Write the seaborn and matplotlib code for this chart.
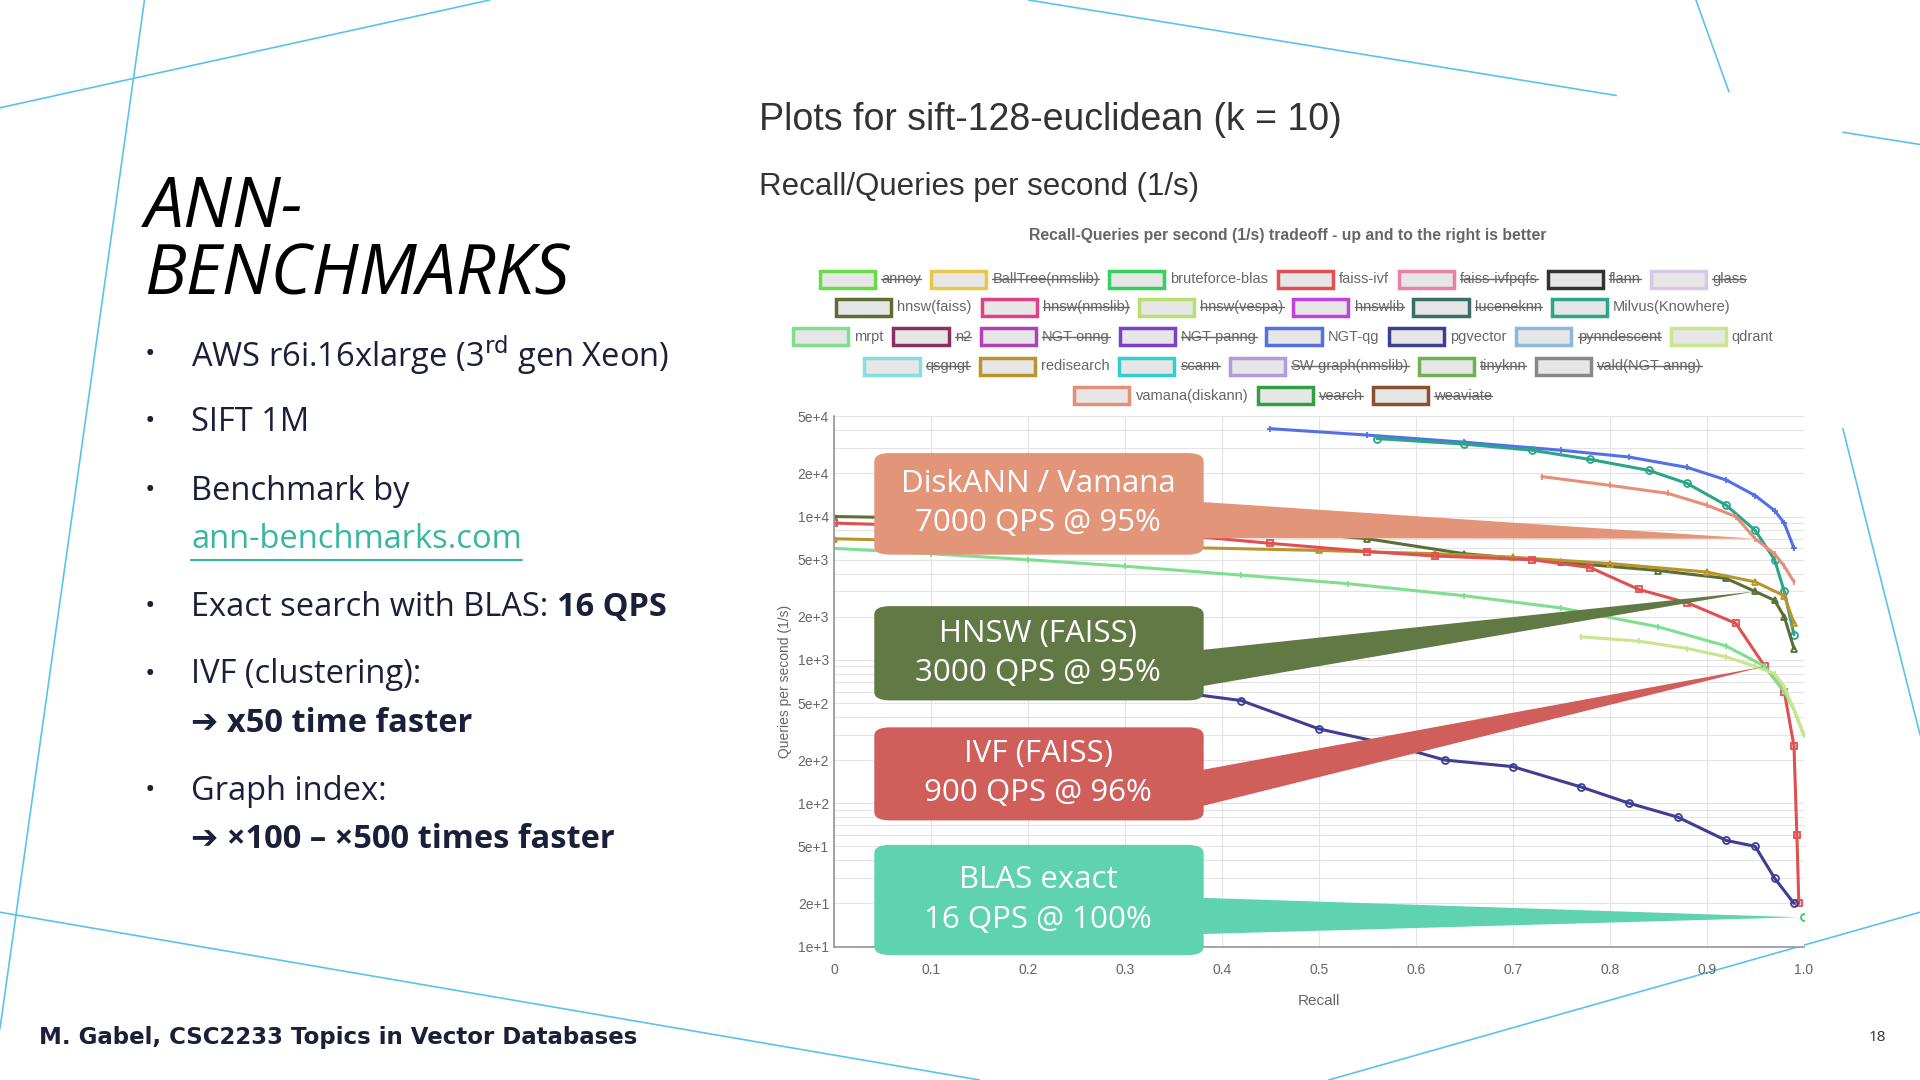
import numpy as np
import pandas as pd
import seaborn as sns
import matplotlib
matplotlib.use("Agg")
import matplotlib.pyplot as plt
from matplotlib.patches import FancyBboxPatch, Polygon, Rectangle
from matplotlib.lines import Line2D

# ---------------- data ----------------
ngt_qg_recall = [0.45, 0.55, 0.65, 0.75, 0.82, 0.88, 0.92, 0.95, 0.97, 0.98, 0.99]
ngt_qg_qps = [41000, 37000, 33000, 29000, 26000, 22000, 18000, 14000, 11000, 9000, 6000]
milvus_recall = [0.56, 0.65, 0.72, 0.78, 0.84, 0.88, 0.92, 0.95, 0.97, 0.98, 0.99]
milvus_qps = [35000, 32000, 29000, 25000, 21000, 17000, 12000, 8000, 5000, 3000, 1500]
vamana_recall = [0.73, 0.8, 0.86, 0.9, 0.93, 0.95, 0.97, 0.98, 0.99]
vamana_qps = [19000, 16500, 14500, 12000, 10000, 7000, 5500, 4500, 3500]
hnswf_recall = [0.0, 0.2, 0.35, 0.45, 0.55, 0.65, 0.75, 0.85, 0.92, 0.95, 0.97, 0.98, 0.99]
hnswf_qps = [10000, 9500, 9000, 8000, 7000, 5500, 4800, 4200, 3700, 3000, 2600, 2000, 1200]
redis_recall = [0.0, 0.2, 0.35, 0.5, 0.62, 0.7, 0.8, 0.9, 0.95, 0.98, 0.99]
redis_qps = [7000, 6500, 6100, 5800, 5500, 5200, 4700, 4100, 3500, 2800, 1800]
ivf_recall = [0.0, 0.2, 0.35, 0.45, 0.55, 0.62, 0.72, 0.78, 0.83, 0.88, 0.93, 0.96, 0.98, 0.99, 0.993, 0.995]
ivf_qps = [9000, 8200, 7500, 6500, 5700, 5300, 5000, 4400, 3100, 2500, 1800, 900, 600, 250, 60, 20]
mrpt_recall = [0.0, 0.1, 0.2, 0.3, 0.42, 0.53, 0.65, 0.75, 0.85, 0.92, 0.96, 0.98, 0.99, 1.0]
mrpt_qps = [6000, 5500, 5000, 4500, 3900, 3400, 2800, 2300, 1700, 1250, 900, 600, 450, 300]
pgv_recall = [0.35, 0.42, 0.5, 0.57, 0.63, 0.7, 0.77, 0.82, 0.87, 0.92, 0.95, 0.97, 0.99]
pgv_qps = [600, 520, 330, 260, 200, 180, 130, 100, 80, 55, 50, 30, 20]
qdrant_recall = [0.77, 0.83, 0.88, 0.92, 0.95, 0.97, 0.98, 0.99, 1.0]
qdrant_qps = [1450, 1350, 1200, 1050, 900, 800, 650, 450, 300]
blas_recall = [1.0]
blas_qps = [16]

series = [
    ("NGT-qg", ngt_qg_recall, ngt_qg_qps, "#5470e8", "+"),
    ("Milvus(Knowhere)", milvus_recall, milvus_qps, "#2aa58a", "o"),
    ("vamana(diskann)", vamana_recall, vamana_qps, "#e58f78", "|"),
    ("hnsw(faiss)", hnswf_recall, hnswf_qps, "#5b6e35", "^"),
    ("redisearch", redis_recall, redis_qps, "#b8952c", "^"),
    ("faiss-ivf", ivf_recall, ivf_qps, "#e05050", "s"),
    ("mrpt", mrpt_recall, mrpt_qps, "#7ee08e", "|"),
    ("pgvector", pgv_recall, pgv_qps, "#3e3e92", "o"),
    ("qdrant", qdrant_recall, qdrant_qps, "#c8e68c", "|"),
    ("bruteforce-blas", blas_recall, blas_qps, "#33d15b", "o"),
]

legend_rows = [
    [("annoy", "#66dd44", 1), ("BallTree(nmslib)", "#e8c84a", 1), ("bruteforce-blas", "#33d15b", 0),
     ("faiss-ivf", "#e05050", 0), ("faiss-ivfpqfs", "#e880a8", 1), ("flann", "#333333", 1), ("glass", "#d8c8e8", 1)],
    [("hnsw(faiss)", "#5b6e35", 0), ("hnsw(nmslib)", "#e0408a", 1), ("hnsw(vespa)", "#b8e070", 1),
     ("hnswlib", "#c040e0", 1), ("luceneknn", "#3a6e6a", 1), ("Milvus(Knowhere)", "#2aa58a", 0)],
    [("mrpt", "#7ee08e", 0), ("n2", "#8a3060", 1), ("NGT-onng", "#b040b8", 1), ("NGT-panng", "#7a40c8", 1),
     ("NGT-qg", "#5470e8", 0), ("pgvector", "#3e3e92", 0), ("pynndescent", "#8ab8e0", 1), ("qdrant", "#c8e68c", 0)],
    [("qsgngt", "#88dde0", 1), ("redisearch", "#b8952c", 0), ("scann", "#30d0d0", 1),
     ("SW-graph(nmslib)", "#b09ae0", 1), ("tinyknn", "#70b050", 1), ("vald(NGT-anng)", "#888888", 1)],
    [("vamana(diskann)", "#e58f78", 0), ("vearch", "#30a040", 1), ("weaviate", "#8a5030", 1)],
]

x_ticks = [0, 0.1, 0.2, 0.3, 0.4, 0.5, 0.6, 0.7, 0.8, 0.9, 1.0]
x_labels = ["0", "0.1", "0.2", "0.3", "0.4", "0.5", "0.6", "0.7", "0.8", "0.9", "1.0"]
y_ticks = [10, 20, 50, 100, 200, 500, 1000, 2000, 5000, 10000, 20000, 50000]
y_labels = ["1e+1", "2e+1", "5e+1", "1e+2", "2e+2", "5e+2", "1e+3", "2e+3", "5e+3", "1e+4", "2e+4", "5e+4"]

callouts = [
    ("DiskANN / Vamana\n7000 QPS @ 95%", "#e3957a", 0.95, 7000),
    ("HNSW (FAISS)\n3000 QPS @ 95%", "#617a45", 0.95, 3000),
    ("IVF (FAISS)\n900 QPS @ 96%", "#d05e5a", 0.96, 900),
    ("BLAS exact\n16 QPS @ 100%", "#5fd3b0", 0.995, 16),
]

bullets = [
    ("AWS r6i.16xlarge (3$^{\\mathrm{rd}}$ gen Xeon)", None),
    ("SIFT 1M", None),
    ("Benchmark by", "ann-benchmarks.com"),
    ("Exact search with BLAS: ", "16 QPS"),
    ("IVF (clustering):", "➔ x50 time faster"),
    ("Graph index:", "➔ ×100 – ×500 times faster"),
]

# ---------------- figure ----------------
sns.set_theme(style="white")
plt.rcParams['font.family'] = ['Open Sans', 'DejaVu Sans']
W, H = 1568.0, 882.0
fig = plt.figure(figsize=(19.2, 10.8), dpi=100)
fig.patch.set_facecolor("white")
fig.canvas.draw()
rend = fig.canvas.get_renderer()

def fx(x): return x / W
def fy(y): return 1 - y / H
def width_ref(t): return t.get_window_extent(rend).width / 1920 * W

# background lines
bg = [((0, 88), (400, 0)), ((118, 0), (0, 840)), ((840, 0), (1320, 78)), ((1385, 0), (1412, 75)),
      ((1505, 108), (1568, 118)), ((1505, 350), (1568, 600)), ((0, 745), (800, 882)),
      ((1085, 882), (1568, 745))]
for (a, b) in bg:
    fig.add_artist(Line2D([fx(a[0]), fx(b[0])], [fy(a[1]), fy(b[1])], color="#5bc3ea", lw=1.2, zorder=0))

# left text
fig.text(fx(118), fy(198), "ANN-\nBENCHMARKS", fontsize=50, style="italic", color="black",
         va="center", ha="left", linespacing=0.95)
ys = [290, 345, 401, 496, 551, 646]
FS = 23.5
for (t, extra), y in zip(bullets, ys):
    fig.text(fx(118), fy(y), "•", fontsize=20, color="#1a1f3a", va="center")
    tt = fig.text(fx(156), fy(y), t, fontsize=FS, color="#1a1f3a", va="center")
    if t.startswith("Exact"):
        fig.text(fx(156 + width_ref(tt)), fy(y), extra, fontsize=FS, weight="bold", color="#1a1f3a", va="center")
    elif extra == "ann-benchmarks.com":
        lt = fig.text(fx(156), fy(y + 40), extra, fontsize=FS, color="#38b6a0", va="center")
        fig.add_artist(Line2D([fx(156), fx(156 + width_ref(lt))], [fy(y + 56), fy(y + 56)], color="#38b6a0", lw=1.5))
    elif extra:
        fig.text(fx(156), fy(y + 40), extra, fontsize=FS, weight="bold", color="#1a1f3a", va="center")

fig.text(fx(32), fy(847), "M. Gabel, CSC2233 Topics in Vector Databases", fontsize=16.5, weight="bold",
         color="#1a1f3a", va="center", family=['DejaVu Sans'])
fig.text(fx(1540), fy(847), "18", fontsize=11, color="#333333", va="center", ha="right")

# chart headings
fig.text(fx(620), fy(98), "Plots for sift-128-euclidean (k = 10)", fontsize=27, color="#333333",
         va="center", family=['Liberation Sans'])
fig.text(fx(620), fy(153), "Recall/Queries per second (1/s)", fontsize=22.5, color="#333333",
         va="center", family=['Liberation Sans'])
fig.text(fx(1052), fy(192), "Recall-Queries per second (1/s) tradeoff - up and to the right is better",
         fontsize=11.3, weight="bold", color="#666666", ha="center", va="center", family=['Liberation Sans'])

# legend (manual, with strike-through)
row_y = [228, 251, 275, 299, 323]
box_w, gap = 45, 8
LF = 10.5
for row, y in zip(legend_rows, row_y):
    items = []
    total = 0
    for name, col, strike in row:
        t = fig.text(0, 0, name, fontsize=LF, color="#666666", family=['Liberation Sans'])
        w = width_ref(t)
        t.remove()
        items.append((name, col, strike, w))
        total += box_w + 5 + w + gap
    x = 1052 - total / 2
    for name, col, strike, w in items:
        fig.add_artist(Rectangle((fx(x), fy(y + 7)), fx(box_w), 14 / H, facecolor="#e6e6e6",
                                 edgecolor=col, lw=2.5))
        tx = x + box_w + 5
        fig.text(fx(tx), fy(y), name, fontsize=LF, color="#666666", va="center",
                 family=['Liberation Sans'])
        if strike:
            fig.add_artist(Line2D([fx(tx), fx(tx + w)], [fy(y), fy(y)], color="#666666", lw=1))
        x = tx + w + gap

# axes
ax = fig.add_axes([fx(681), fy(773), fx(1473 - 681), (773 - 340) / H])
rows = []
for name, r, q, col, m in series:
    for a, b in zip(r, q):
        rows.append({"algo": name, "recall": a, "qps": b})
df = pd.DataFrame(rows)
ax.set_yscale("log")
for name, r, q, col, m in series:
    sub = df[df.algo == name]
    sns.lineplot(data=sub, x="recall", y="qps", ax=ax, color=col, lw=2.2, marker=m, markersize=5,
                 markerfacecolor="none", markeredgecolor=col, markeredgewidth=1.3, legend=False,
                 estimator=None, sort=False)
ax.set_xlim(0, 1.0)
ax.set_ylim(10, 50000)
ax.set_xticks(x_ticks)
ax.set_xticklabels(x_labels)
ax.set_yticks(y_ticks)
ax.set_yticklabels(y_labels)
ax.yaxis.set_minor_locator(matplotlib.ticker.LogLocator(base=10, subs=np.arange(2, 10)))
ax.yaxis.set_minor_formatter(matplotlib.ticker.NullFormatter())
ax.grid(True, which="both", color="#e4e4e4", lw=0.8)
ax.tick_params(axis="both", labelsize=10, colors="#666666", length=0)
ax.tick_params(axis="x", pad=12)
for lab in ax.get_xticklabels() + ax.get_yticklabels():
    lab.set_family(['Liberation Sans'])
ax.set_xlabel("Recall", fontsize=11, color="#666666", family=['Liberation Sans'], labelpad=12)
ax.set_ylabel("Queries per second (1/s)", fontsize=10, color="#666666", family=['Liberation Sans'])
for sp in ax.spines.values():
    sp.set_visible(False)
ax.spines["left"].set_visible(True)
ax.spines["left"].set_color("#999999")
ax.spines["bottom"].set_visible(True)
ax.spines["bottom"].set_color("#999999")
ax.set_facecolor("white")

# callouts
boxes = [(370, 453), (495, 572), (594, 670), (690, 780)]
fig.canvas.draw()
for (text, col, rx, qy), (y0, y1) in zip(callouts, boxes):
    px, py = ax.transData.transform((rx, qy))
    tx, ty = fig.transFigure.inverted().transform((px, py))
    ym = (y0 + y1) / 2
    poly = Polygon([(fx(975), fy(ym - 2)), (fx(975), fy(ym + 28)), (tx, ty)], closed=True,
                   facecolor=col, edgecolor="none", transform=fig.transFigure, zorder=5)
    fig.add_artist(poly)
    fb = FancyBboxPatch((fx(714), fy(y1)), fx(983 - 714), (y1 - y0) / H,
                        boxstyle="round,pad=0,rounding_size=0.008", facecolor=col, edgecolor="none",
                        transform=fig.transFigure, zorder=6)
    fig.add_artist(fb)
    fig.text(fx(848), fy(ym), text, fontsize=22.5, color="white", ha="center", va="center",
             linespacing=1.4, zorder=7)

fig.savefig("out.png", dpi=100)
